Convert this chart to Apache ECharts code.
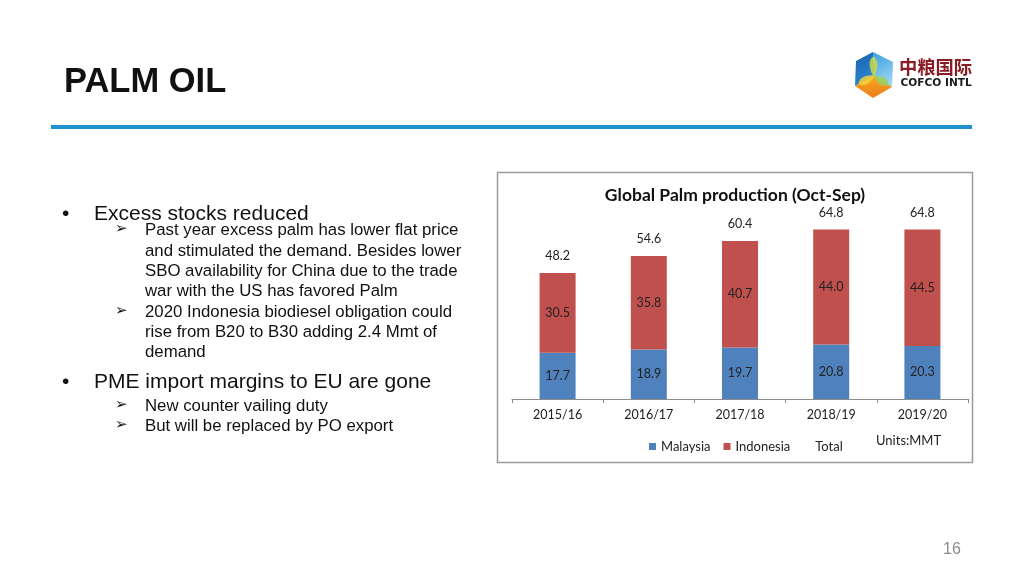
<!DOCTYPE html>
<html>
<head>
<meta charset="utf-8">
<script src="https://cdn.jsdelivr.net/npm/echarts@6/dist/echarts.min.js"></script>
<style>
html,body{margin:0;padding:0;background:#fff;}
#c{width:1024px;height:576px;}
</style>
</head>
<body>
<div id="c"></div>
<script>
// ---- data ----
var categories = ['2015/16', '2016/17', '2017/18', '2018/19', '2019/20'];
var malaysia = [17.7, 18.9, 19.7, 20.8, 20.3];
var indonesia = [30.5, 35.8, 40.7, 44.0, 44.5];
var total = [48.2, 54.6, 60.4, 64.8, 64.8];
var chartTitle = 'Global Palm production (Oct-Sep)';
var unitsText = 'Units:MMT';
var slideTitle = 'PALM OIL';
var pageNumber = '16';
var bulletLines = [
  {lvl: 1, text: 'Excess stocks reduced', bullet: true},
  {lvl: 2, text: 'Past year excess palm has lower flat price', bullet: true},
  {lvl: 2, text: 'and stimulated the demand. Besides lower'},
  {lvl: 2, text: 'SBO availability for China due to the trade'},
  {lvl: 2, text: 'war with the US has favored Palm'},
  {lvl: 2, text: '2020 Indonesia biodiesel obligation could', bullet: true},
  {lvl: 2, text: 'rise from B20 to B30 adding 2.4 Mmt of'},
  {lvl: 2, text: 'demand'},
  {lvl: 1, text: 'PME import margins to EU are gone', bullet: true},
  {lvl: 2, text: 'New counter vailing duty', bullet: true},
  {lvl: 2, text: 'But will be replaced by PO export', bullet: true}
];
var baselines = [219.5, 235, 255.5, 276, 296, 316.5, 336.7, 356.7, 387.7, 410.7, 430.7];

var chart = echarts.init(document.getElementById('c'));
var CF = 'Lato, "Open Sans", sans-serif';
var AF = '"Liberation Sans", Arial, sans-serif';

var graphics = [];
// slide title
graphics.push({type: 'text', left: 64, top: 65, style: {text: slideTitle, font: 'bold 34.5px ' + AF, fill: '#111'}});
// blue rule
graphics.push({type: 'rect', shape: {x: 51, y: 125, width: 921, height: 4}, style: {fill: '#1c93cc'}});
// bullets
bulletLines.forEach(function (l, i) {
  var b = baselines[i];
  if (l.lvl === 1) {
    var fs = 21;
    var y1 = b + 0.24 * fs;
    graphics.push({type: 'text', x: 94, y: y1, style: {text: l.text, font: fs + 'px ' + AF, fill: '#111', verticalAlign: 'bottom'}});
    graphics.push({type: 'text', x: 62, y: y1, style: {text: '\u2022', font: fs + 'px ' + AF, fill: '#111', verticalAlign: 'bottom'}});
  } else {
    var fs2 = 16.8;
    var y2 = b + 0.24 * fs2;
    graphics.push({type: 'text', x: 145, y: y2, style: {text: l.text, font: fs2 + 'px ' + AF, fill: '#111', verticalAlign: 'bottom'}});
    if (l.bullet) {
      graphics.push({type: 'text', x: 115, y: b - 5.5, style: {text: '\u27A2', font: '15px "DejaVu Sans"', fill: '#111', verticalAlign: 'middle'}});
    }
  }
});
// page number
graphics.push({type: 'text', x: 952, y: 550, style: {text: pageNumber, font: '16px ' + AF, fill: '#8c8c8c', align: 'center', verticalAlign: 'middle'}});
// chart frame
graphics.push({type: 'rect', shape: {x: 497.5, y: 172.5, width: 475, height: 290}, style: {fill: 'none', stroke: '#9a9a9a', lineWidth: 1.5}, z: 0});
// chart title
graphics.push({type: 'text', x: 735, y: 195.5, style: {text: chartTitle, font: 'bold 17.5px ' + CF, fill: '#111', align: 'center', verticalAlign: 'middle'}});
// units
graphics.push({type: 'text', x: 876, y: 441, style: {text: unitsText, font: '13px ' + CF, fill: '#222', verticalAlign: 'middle'}});

// logo
(function () {
  var C = [874, 76], T = [873, 52], UR = [893, 62], LR = [892, 87], B = [873, 98], LL = [855, 86], UL = [856, 61];
  graphics.push({type: 'polygon', shape: {points: [C, LL, UL, T]}, style: {fill: new echarts.graphic.LinearGradient(0, 0, 1, 1, [{offset: 0, color: '#1b5fae'}, {offset: 1, color: '#2f8fd8'}])}});
  graphics.push({type: 'polygon', shape: {points: [C, T, UR, LR]}, style: {fill: new echarts.graphic.LinearGradient(0, 0, 1, 1, [{offset: 0, color: '#3aa0e0'}, {offset: 1, color: '#a8dcf5'}])}});
  graphics.push({type: 'polygon', shape: {points: [C, LR, B, LL]}, style: {fill: new echarts.graphic.LinearGradient(0, 0, 0, 1, [{offset: 0, color: '#f6a623'}, {offset: 1, color: '#ee7d1a'}])}});
  function leaf(V, col) {
    var mx = (C[0] + V[0]) / 2, my = (C[1] + V[1]) / 2;
    var dx = V[0] - C[0], dy = V[1] - C[1], L = Math.sqrt(dx * dx + dy * dy);
    var nx = -dy / L * 4, ny = dx / L * 4;
    var E = [C[0] + dx * 0.8, C[1] + dy * 0.8];
    graphics.push({type: 'polygon', shape: {points: [C, [mx + nx, my + ny], E, [mx - nx, my - ny]], smooth: 0.4}, style: {fill: col, opacity: 0.85}});
  }
  leaf(T, '#c9d84a');
  leaf(LR, '#9fcf5a');
  leaf(LL, '#f3d13a');
  graphics.push({type: 'text', x: 899, y: 67, style: {text: '中粮国际', font: 'bold 18.3px "Noto Sans CJK SC"', fill: '#8a1c24', verticalAlign: 'middle'}});
  graphics.push({type: 'text', x: 900.5, y: 83.5, style: {text: 'COFCO INTL', font: 'bold 10.6px "DejaVu Sans", sans-serif', fill: '#1a1a1a', verticalAlign: 'middle'}});
})();

var NF = 12.5;
var labelStyle = {show: true, position: 'inside', color: '#222', fontFamily: CF, fontSize: NF,
  formatter: function (p) { return Number(p.value).toFixed(1); }};

chart.setOption({
  animation: false,
  textStyle: {fontFamily: CF},
  grid: {left: 512, right: 56, top: 216, bottom: 177},
  legend: {
    left: 644, top: 435, icon: 'rect', itemWidth: 7, itemHeight: 7, itemGap: 13,
    textStyle: {fontFamily: CF, fontSize: 13, color: '#222'},
    data: [{name: 'Malaysia'}, {name: 'Indonesia'}, {name: 'Total', itemStyle: {opacity: 0}}]
  },
  xAxis: {
    type: 'category', data: categories, boundaryGap: true,
    axisLine: {lineStyle: {color: '#8c8c8c', width: 1}},
    axisTick: {show: true, length: 4, lineStyle: {color: '#8c8c8c'}},
    axisLabel: {color: '#222', fontSize: 12.5, fontFamily: CF, margin: 9}
  },
  yAxis: {type: 'value', min: 0, max: 70, show: false, splitLine: {show: false}},
  series: [
    {name: 'Malaysia', type: 'bar', stack: 's', data: malaysia, barWidth: 36, itemStyle: {color: '#4f81bd'}, label: labelStyle},
    {name: 'Indonesia', type: 'bar', stack: 's', data: indonesia, barWidth: 36, itemStyle: {color: '#c0504d'}, label: labelStyle},
    {name: 'Total', type: 'line', data: total, symbol: 'circle', symbolSize: 1,
      itemStyle: {color: 'rgba(0,0,0,0)'}, lineStyle: {opacity: 0, width: 0},
      label: {show: true, position: 'top', distance: 10, color: '#222', fontFamily: CF, fontSize: NF,
        formatter: function (p) { return Number(p.value).toFixed(1); }}}
  ],
  graphic: graphics
});
</script>
</body>
</html>
